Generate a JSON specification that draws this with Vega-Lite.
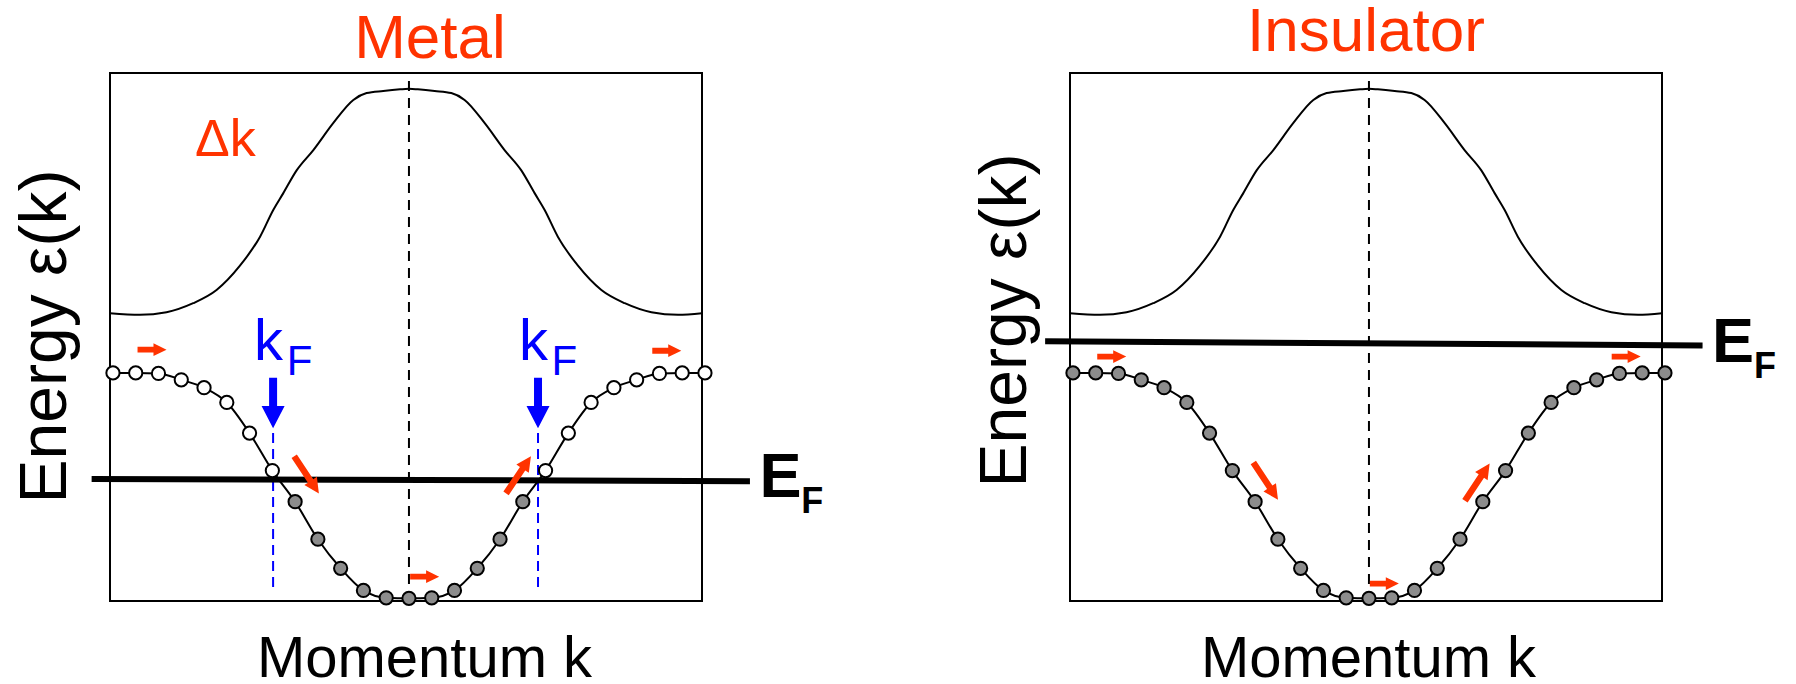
{
  "$schema": "https://vega.github.io/schema/vega-lite/v6.json",
  "autosize": {"type": "none"},
  "padding": {"left": 110, "top": 73, "right": 1686, "bottom": 611},
  "background": "white",
  "config": {"view": {"stroke": "black", "strokeWidth": 2}, "font": "Liberation Sans"},
  "datasets": {
    "upper": [
      {"k": -1.01, "E": 5.45}, {"k": -0.909, "E": 5.42}, {"k": -0.819, "E": 5.47}, {"k": -0.729, "E": 5.64},
      {"k": -0.65, "E": 5.89}, {"k": -0.571, "E": 6.35}, {"k": -0.503, "E": 6.9}, {"k": -0.458, "E": 7.41},
      {"k": -0.425, "E": 7.72}, {"k": -0.379, "E": 8.16}, {"k": -0.323, "E": 8.54}, {"k": -0.256, "E": 9.05},
      {"k": -0.188, "E": 9.49}, {"k": -0.143, "E": 9.62}, {"k": -0.087, "E": 9.66}, {"k": -0.03, "E": 9.69},
      {"k": 0, "E": 9.7},
      {"k": 0.03, "E": 9.69}, {"k": 0.087, "E": 9.66}, {"k": 0.143, "E": 9.62}, {"k": 0.188, "E": 9.49},
      {"k": 0.256, "E": 9.05}, {"k": 0.323, "E": 8.54}, {"k": 0.379, "E": 8.16}, {"k": 0.425, "E": 7.72},
      {"k": 0.458, "E": 7.41}, {"k": 0.503, "E": 6.9}, {"k": 0.571, "E": 6.35}, {"k": 0.65, "E": 5.89},
      {"k": 0.729, "E": 5.64}, {"k": 0.819, "E": 5.47}, {"k": 0.909, "E": 5.42}, {"k": 0.99, "E": 5.45}
    ],
    "lower": [
      {"k": -1, "E": 4.32, "metal": "empty"}, {"k": -0.9231, "E": 4.32, "metal": "empty"},
      {"k": -0.8462, "E": 4.31, "metal": "empty"}, {"k": -0.7692, "E": 4.19, "metal": "empty"},
      {"k": -0.6923, "E": 4.04, "metal": "empty"}, {"k": -0.6154, "E": 3.76, "metal": "empty"},
      {"k": -0.5385, "E": 3.18, "metal": "empty"}, {"k": -0.4615, "E": 2.47, "metal": "empty"},
      {"k": -0.3846, "E": 1.88, "metal": "filled"}, {"k": -0.3077, "E": 1.17, "metal": "filled"},
      {"k": -0.2308, "E": 0.62, "metal": "filled"}, {"k": -0.1538, "E": 0.2, "metal": "filled"},
      {"k": -0.0769, "E": 0.06, "metal": "filled"}, {"k": 0, "E": 0.05, "metal": "filled"},
      {"k": 0.0769, "E": 0.06, "metal": "filled"}, {"k": 0.1538, "E": 0.2, "metal": "filled"},
      {"k": 0.2308, "E": 0.62, "metal": "filled"}, {"k": 0.3077, "E": 1.17, "metal": "filled"},
      {"k": 0.3846, "E": 1.88, "metal": "filled"}, {"k": 0.4615, "E": 2.47, "metal": "empty"},
      {"k": 0.5385, "E": 3.18, "metal": "empty"}, {"k": 0.6154, "E": 3.76, "metal": "empty"},
      {"k": 0.6923, "E": 4.04, "metal": "empty"}, {"k": 0.7692, "E": 4.19, "metal": "empty"},
      {"k": 0.8462, "E": 4.31, "metal": "empty"}, {"k": 0.9231, "E": 4.32, "metal": "empty"},
      {"k": 1, "E": 4.32, "metal": "empty"}
    ],
    "center": [{"k": 0, "E": 0, "E2": 10}],
    "ef": [
      {"panel": "Metal", "k": -1.072, "k2": 1.152, "E": 2.31, "E2": 2.27},
      {"panel": "Insulator", "k": -1.094, "k2": 1.127, "E": 4.92, "E2": 4.84}
    ],
    "efEnd": [
      {"panel": "Metal", "k": 1.152, "E": 2.27, "label": "E", "sub": "F"},
      {"panel": "Insulator", "k": 1.127, "E": 4.84, "label": "E", "sub": "F"}
    ],
    "arrows": [
      {"panel": "Metal", "kind": "h", "k": -0.868, "E": 4.76, "dir": 0},
      {"panel": "Metal", "kind": "h", "k": 0.871, "E": 4.74, "dir": 0},
      {"panel": "Metal", "kind": "h", "k": 0.053, "E": 0.46, "dir": 0},
      {"panel": "Metal", "kind": "d", "k": -0.346, "E": 2.39, "dir": 56.5},
      {"panel": "Metal", "kind": "d", "k": 0.37, "E": 2.39, "dir": -56.2},
      {"panel": "Insulator", "kind": "h", "k": -0.869, "E": 4.63, "dir": 0},
      {"panel": "Insulator", "kind": "h", "k": 0.869, "E": 4.63, "dir": 0},
      {"panel": "Insulator", "kind": "h", "k": 0.052, "E": 0.33, "dir": 0},
      {"panel": "Insulator", "kind": "d", "k": -0.349, "E": 2.27, "dir": 56.5},
      {"panel": "Insulator", "kind": "d", "k": 0.366, "E": 2.25, "dir": -56.5}
    ],
    "kfLines": [{"k": -0.459, "E": 3.18, "E2": 0.15}, {"k": 0.436, "E": 3.18, "E2": 0.15}],
    "kfArrows": [{"k": -0.459, "E": 3.75}, {"k": 0.436, "E": 3.75}],
    "kf": [{"k": -0.459, "E": 4.555, "label": "k", "sub": "F"}, {"k": 0.436, "E": 4.555, "label": "k", "sub": "F"}],
    "deltak": [{"k": -0.723, "E": 8.43, "label": "Δk"}]
  },
  "bounds": "flush",
  "spacing": 368,
  "hconcat": [
    {
      "width": 592,
      "height": 528,
      "title": {"text": "Metal", "fontSize": 62, "color": "#ff3300", "fontWeight": "normal", "font": "Liberation Sans", "baseline": "top", "offset": 1, "dx": 24, "frame": "group", "anchor": "middle"},
      "encoding": {
        "x": {"field": "k", "type": "quantitative", "scale": {"domain": [-1.01, 0.99], "nice": false, "zero": false},
              "axis": {"title": "Momentum k", "labels": false, "ticks": false, "domain": false, "grid": false, "titleFontSize": 58, "titleFontWeight": "normal", "titleColor": "black", "titleBaseline": "alphabetic", "titleAlign": "center", "titleX": 314, "titleY": 75, "titleFont": "Liberation Sans"}},
        "y": {"field": "E", "type": "quantitative", "scale": {"domain": [0, 10], "nice": false, "zero": false},
              "axis": {"title": "Energy ε(k)", "labels": false, "ticks": false, "domain": false, "grid": false, "titleFontSize": 66, "titleFontWeight": "normal", "titleColor": "black", "titleBaseline": "alphabetic", "titleAlign": "center", "titleAngle": 270, "titleX": -45, "titleY": 263, "titleFont": "Liberation Sans"}}
      },
      "layer": [
        {"data": {"name": "upper"}, "mark": {"type": "line", "color": "black", "strokeWidth": 2, "interpolate": "monotone"}},
        {"data": {"name": "center"}, "mark": {"type": "rule", "color": "black", "strokeWidth": 2, "strokeDash": [10, 7]}, "encoding": {"y2": {"field": "E2"}}},
        {"data": {"name": "kfLines"}, "mark": {"type": "rule", "color": "#0000ff", "strokeWidth": 2, "strokeDash": [10, 6]}, "encoding": {"y2": {"field": "E2"}}},
        {"data": {"name": "ef"}, "transform": [{"filter": "datum.panel === 'Metal'"}], "mark": {"type": "rule", "color": "black", "strokeWidth": 6}, "encoding": {"x2": {"field": "k2"}, "y2": {"field": "E2"}}},
        {"data": {"name": "lower"}, "mark": {"type": "line", "color": "black", "strokeWidth": 2, "interpolate": "monotone"}},
        {"data": {"name": "lower"}, "mark": {"type": "point", "shape": "circle", "filled": true, "size": 175, "stroke": "black", "strokeWidth": 2, "opacity": 1},
         "encoding": {"fill": {"field": "metal", "type": "nominal", "scale": {"domain": ["empty", "filled"], "range": ["white", "#8c8c8c"]}, "legend": null}}},
        {"data": {"name": "arrows"}, "transform": [{"filter": "datum.panel === 'Metal' && datum.kind === 'h'"}],
         "mark": {"type": "point", "filled": true, "shape": "M-1,-0.2L0.1,-0.2L0.1,-0.44L1,0L0.1,0.44L0.1,0.2L-1,0.2Z", "size": 841, "color": "#ff3300", "opacity": 1, "strokeWidth": 0},
         "encoding": {"angle": {"field": "dir", "type": "quantitative", "scale": null}}},
        {"data": {"name": "arrows"}, "transform": [{"filter": "datum.panel === 'Metal' && datum.kind === 'd'"}],
         "mark": {"type": "point", "filled": true, "shape": "M-1,-0.143L0.33,-0.143L0.33,-0.335L1,0L0.33,0.335L0.33,0.143L-1,0.143Z", "size": 2000, "color": "#ff3300", "opacity": 1, "strokeWidth": 0},
         "encoding": {"angle": {"field": "dir", "type": "quantitative", "scale": null}}},
        {"data": {"name": "kfArrows"},
         "mark": {"type": "point", "filled": true, "shape": "M-0.158,-1L0.158,-1L0.158,0.12L0.455,0.12L0,1L-0.455,0.12L-0.158,0.12Z", "size": 2560, "color": "#0000ff", "opacity": 1, "strokeWidth": 0}},
        {"data": {"name": "kf"}, "mark": {"type": "text", "align": "left", "baseline": "alphabetic", "fontSize": 58, "color": "#0000ff", "dx": -19}, "encoding": {"text": {"field": "label"}}},
        {"data": {"name": "kf"}, "mark": {"type": "text", "align": "left", "baseline": "alphabetic", "fontSize": 42, "color": "#0000ff", "dx": 13.6, "dy": 14.5}, "encoding": {"text": {"field": "sub"}}},
        {"data": {"name": "deltak"}, "mark": {"type": "text", "align": "left", "baseline": "alphabetic", "fontSize": 52, "color": "#ff3300"}, "encoding": {"text": {"field": "label"}}},
        {"data": {"name": "efEnd"}, "transform": [{"filter": "datum.panel === 'Metal'"}], "mark": {"type": "text", "align": "left", "baseline": "alphabetic", "fontSize": 63, "fontWeight": "bold", "color": "black", "dx": 9.5, "dy": 16.1}, "encoding": {"text": {"field": "label"}}},
        {"data": {"name": "efEnd"}, "transform": [{"filter": "datum.panel === 'Metal'"}], "mark": {"type": "text", "align": "left", "baseline": "alphabetic", "fontSize": 36, "fontWeight": "bold", "color": "black", "dx": 51.4, "dy": 32.1}, "encoding": {"text": {"field": "sub"}}}
      ]
    },
    {
      "width": 592,
      "height": 528,
      "title": {"text": "Insulator", "fontSize": 62, "color": "#ff3300", "fontWeight": "normal", "font": "Liberation Sans", "baseline": "top", "offset": 8.5, "dx": 0, "frame": "group", "anchor": "middle"},
      "encoding": {
        "x": {"field": "k", "type": "quantitative", "scale": {"domain": [-1.01, 0.99], "nice": false, "zero": false},
              "axis": {"title": "Momentum k", "labels": false, "ticks": false, "domain": false, "grid": false, "titleFontSize": 58, "titleFontWeight": "normal", "titleColor": "black", "titleBaseline": "alphabetic", "titleAlign": "center", "titleX": 298, "titleY": 75, "titleFont": "Liberation Sans"}},
        "y": {"field": "E", "type": "quantitative", "scale": {"domain": [0, 10], "nice": false, "zero": false},
              "axis": {"title": "Energy ε(k)", "labels": false, "ticks": false, "domain": false, "grid": false, "titleFontSize": 66, "titleFontWeight": "normal", "titleColor": "black", "titleBaseline": "alphabetic", "titleAlign": "center", "titleAngle": 270, "titleX": -45, "titleY": 247, "titleFont": "Liberation Sans"}}
      },
      "layer": [
        {"data": {"name": "upper"}, "mark": {"type": "line", "color": "black", "strokeWidth": 2, "interpolate": "monotone"}},
        {"data": {"name": "center"}, "mark": {"type": "rule", "color": "black", "strokeWidth": 2, "strokeDash": [10, 7]}, "encoding": {"y2": {"field": "E2"}}},
        {"data": {"name": "ef"}, "transform": [{"filter": "datum.panel === 'Insulator'"}], "mark": {"type": "rule", "color": "black", "strokeWidth": 6}, "encoding": {"x2": {"field": "k2"}, "y2": {"field": "E2"}}},
        {"data": {"name": "lower"}, "mark": {"type": "line", "color": "black", "strokeWidth": 2, "interpolate": "monotone"}},
        {"data": {"name": "lower"}, "mark": {"type": "point", "shape": "circle", "filled": true, "size": 175, "fill": "#8c8c8c", "stroke": "black", "strokeWidth": 2, "opacity": 1}},
        {"data": {"name": "arrows"}, "transform": [{"filter": "datum.panel === 'Insulator' && datum.kind === 'h'"}],
         "mark": {"type": "point", "filled": true, "shape": "M-1,-0.2L0.1,-0.2L0.1,-0.44L1,0L0.1,0.44L0.1,0.2L-1,0.2Z", "size": 841, "color": "#ff3300", "opacity": 1, "strokeWidth": 0},
         "encoding": {"angle": {"field": "dir", "type": "quantitative", "scale": null}}},
        {"data": {"name": "arrows"}, "transform": [{"filter": "datum.panel === 'Insulator' && datum.kind === 'd'"}],
         "mark": {"type": "point", "filled": true, "shape": "M-1,-0.143L0.33,-0.143L0.33,-0.335L1,0L0.33,0.335L0.33,0.143L-1,0.143Z", "size": 2000, "color": "#ff3300", "opacity": 1, "strokeWidth": 0},
         "encoding": {"angle": {"field": "dir", "type": "quantitative", "scale": null}}},
        {"data": {"name": "efEnd"}, "transform": [{"filter": "datum.panel === 'Insulator'"}], "mark": {"type": "text", "align": "left", "baseline": "alphabetic", "fontSize": 63, "fontWeight": "bold", "color": "black", "dx": 9.5, "dy": 16.1}, "encoding": {"text": {"field": "label"}}},
        {"data": {"name": "efEnd"}, "transform": [{"filter": "datum.panel === 'Insulator'"}], "mark": {"type": "text", "align": "left", "baseline": "alphabetic", "fontSize": 36, "fontWeight": "bold", "color": "black", "dx": 51.4, "dy": 32.1}, "encoding": {"text": {"field": "sub"}}}
      ]
    }
  ]
}
